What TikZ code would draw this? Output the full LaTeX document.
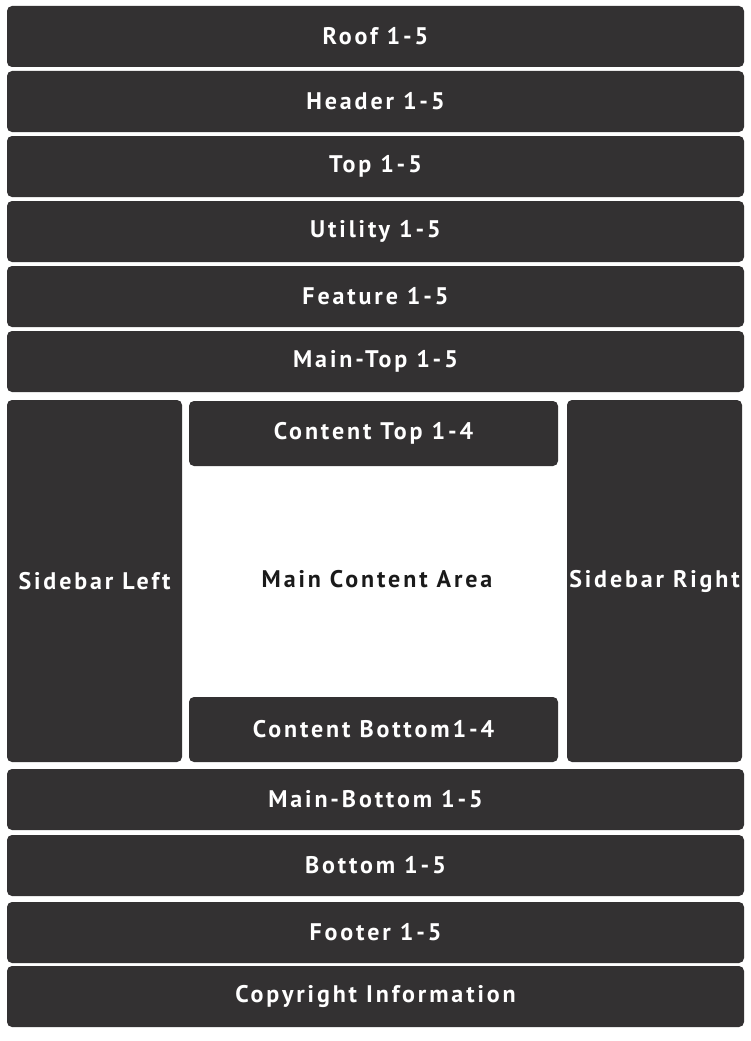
\documentclass[tikz,border=0pt]{standalone}
\usepackage{fontspec}
\setmainfont{PT Sans}
\usetikzlibrary{positioning}

\definecolor{panel}{RGB}{51,49,50}
\definecolor{ink}{RGB}{26,26,26}

\begin{document}
\begin{tikzpicture}[x=1pt, y=-1pt,
    bar/.style={fill=panel, rounded corners=5pt, text=white, inner sep=0pt,
        font=\fontsize{24}{24}\selectfont\bfseries\addfontfeature{LetterSpace=12}},
    row/.style={bar, minimum width=737pt, minimum height=61pt},
    side/.style={bar, minimum width=175pt, minimum height=362pt},
    inner/.style={bar, minimum width=369pt, minimum height=65pt}]

    % ==== PAGE ====
    \useasboundingbox[fill=white] (0,0) rectangle (750,1041);

    % ==== TOP ROWS ====
    \node[row] (roof)    at (375.5,36.5)  {Roof 1-5};
    \node[row] (header)  at (375.5,101.5) {Header 1-5};
    \node[row] (top)     at (375.5,166.5) {Top 1-5};
    \node[row] (utility) at (375.5,231.5) {Utility 1-5};
    \node[row] (feature) at (375.5,296.5) {Feature 1-5};
    \node[row] (maintop) at (375.5,361.5) {Main-Top 1-5};

    % ==== SIDEBARS ====
    \node[side] (sideleft)  at (94.5,581)  {Sidebar Left};
    \node[side] (sideright) at (654.5,581) {Sidebar Right};

    % ==== CONTENT ====
    \node[inner] (contop) at (373.5,433.5) {Content Top 1-4};
    \node[inner] (conbot) at (373.5,729.5) {Content Bottom1-4};
    \node[text=ink, font=\fontsize{24}{24}\selectfont\bfseries\addfontfeature{LetterSpace=12}]
        (maincontent) at (377,579) {Main Content Area};

    % ==== BOTTOM ROWS ====
    \node[row] (mainbottom) at (375.5,799.5) {Main-Bottom 1-5};
    \node[row] (bottom)     at (375.5,865.5) {Bottom 1-5};
    \node[row] (footer)     at (375.5,932.5) {Footer 1-5};
    \node[row] (copyright)  at (375.5,996.5) {Copyright Information};
\end{tikzpicture}
\end{document}
